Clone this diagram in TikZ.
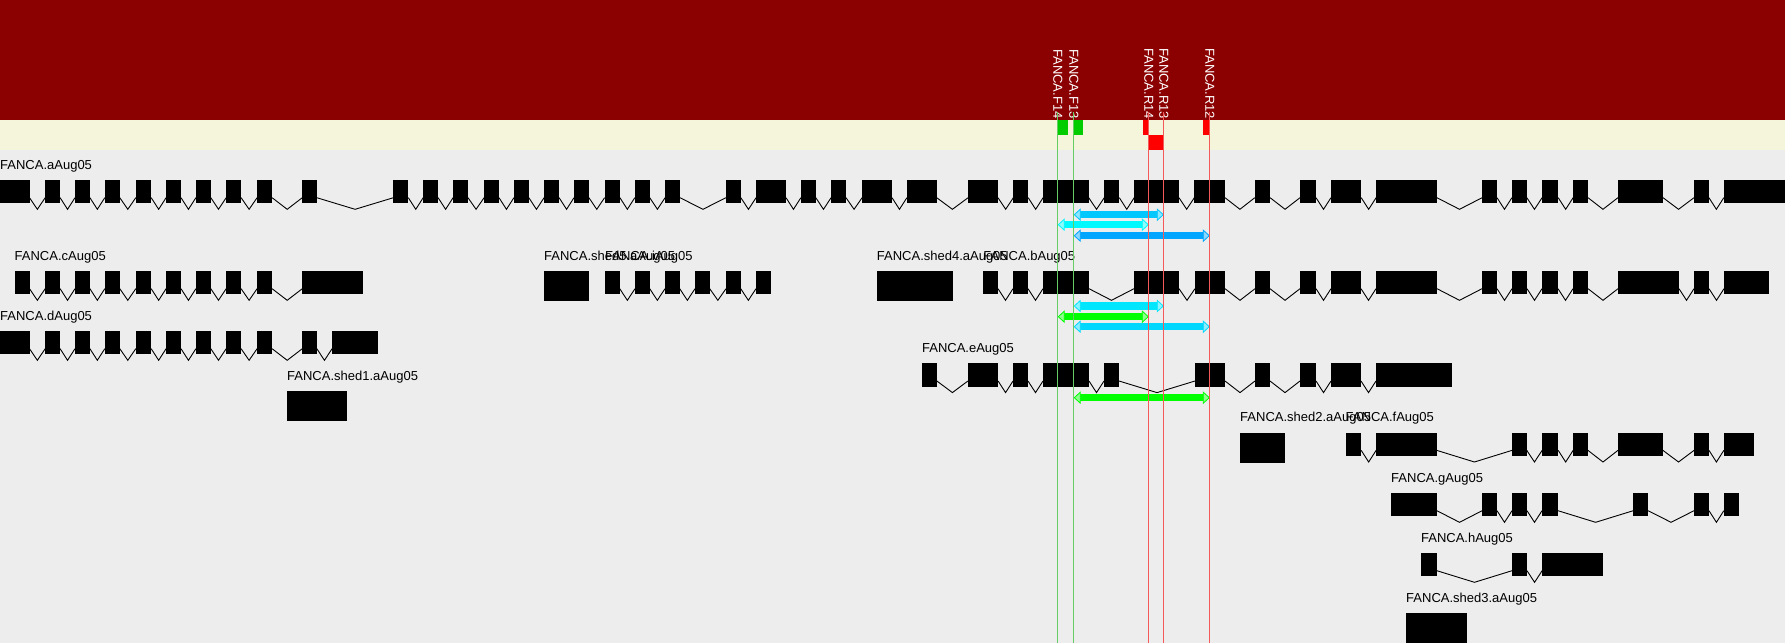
\documentclass[tikz,border=0pt]{standalone}
\usepackage{fontspec}
\setmainfont{Liberation Sans}
\usepackage{xcolor}
\usepackage{tikz}

\definecolor{bandred}{RGB}{139,0,0}
\definecolor{bandcream}{RGB}{245,245,220}
\definecolor{canvas}{RGB}{237,237,237}
\definecolor{fgreen}{RGB}{0,204,0}
\definecolor{rred}{RGB}{255,0,0}
\definecolor{flinecol}{RGB}{100,205,100}
\definecolor{rlinecol}{RGB}{245,90,90}
\definecolor{ampA}{RGB}{0,200,255}
\definecolor{ampB}{RGB}{0,248,255}
\definecolor{ampC}{RGB}{0,165,255}
\definecolor{ampD}{RGB}{0,230,255}
\definecolor{ampE}{RGB}{0,255,0}
\definecolor{ampF}{RGB}{0,215,255}

% exons (start/end) on one row, with bent introns between them
\newcommand{\genemodel}[2]{%
  \foreach \s/\e [count=\i, remember=\e as \pe (initially 0)] in {#2} {
    \fill[exon] (\s,#1) rectangle (\e,#1+23.3);
    \ifnum\i>1
      \draw[intron] (\pe,#1+17.7) -- ({(\pe+\s)/2},#1+29.3) -- (\s,#1+17.7);
    \fi
  }}

% amplicon bar with open ends
\newcommand{\ampbar}[4]{%
  \fill[#1] (#2+5,#4-3.6) rectangle (#3-5,#4+3.6);
  \filldraw[fill=#1!45!white, draw=#1, line width=0.8pt] (#2+6,#4-5.5) -- (#2,#4) -- (#2+6,#4+5.5) -- cycle;
  \filldraw[fill=#1!45!white, draw=#1, line width=0.8pt] (#3-6,#4-5.5) -- (#3,#4) -- (#3-6,#4+5.5) -- cycle;}

\begin{document}
\begin{tikzpicture}[x=1pt, y=-1pt,
    exon/.style={fill=black},
    shedbox/.style={fill=black},
    intron/.style={draw=black, line width=0.9pt},
    genelabel/.style={anchor=base west, inner sep=0pt, font=\fontsize{13}{15}\selectfont},
    primerlabel/.style={anchor=west, inner sep=0pt, rotate=-90, text=white, font=\fontsize{13}{15}\selectfont},
    fline/.style={draw=flinecol, line width=1pt},
    rline/.style={draw=rlinecol, line width=1pt}]

    \useasboundingbox (0,0) rectangle (1785,643);

    % Bands
    \fill[canvas] (0,0) rectangle (1785,643);
    \fill[bandred] (0,0) rectangle (1785,120);
    \fill[bandcream] (0,120) rectangle (1785,150);

    % Primers
    \node [primerlabel] (f14) at (1057.8,49) {FANCA.F14};
    \node [primerlabel] (f13) at (1073.8,49) {FANCA.F13};
    \node [primerlabel] (r14) at (1148.8,48) {FANCA.R14};
    \node [primerlabel] (r13) at (1163.8,48) {FANCA.R13};
    \node [primerlabel] (r12) at (1209.8,48) {FANCA.R12};
    \fill[fgreen] (1057.3,120) rectangle (1067.7,135);
    \fill[fgreen] (1073.3,120) rectangle (1082.7,135);
    \fill[rred] (1143,120) rectangle (1148.3,135);
    \fill[rred] (1149,135) rectangle (1163.7,150);
    \fill[rred] (1203,120) rectangle (1209.3,135);

    % Gene labels
    \node [genelabel] (fancaA) at (0,169.5) {FANCA.aAug05};
    \node [genelabel] (fancaC) at (14.5,260.5) {FANCA.cAug05};
    \node [genelabel] (fancaD) at (0,320.5) {FANCA.dAug05};
    \node [genelabel] (shed1) at (287,380.5) {FANCA.shed1.aAug05};
    \node [genelabel] (shed5) at (544,260.5) {FANCA.shed5.aAug05};
    \node [genelabel] (fancaI) at (605,260.5) {FANCA.iAug05};
    \node [genelabel] (shed4) at (876.7,260.5) {FANCA.shed4.aAug05};
    \node [genelabel] (fancaB) at (983.2,260.5) {FANCA.bAug05};
    \node [genelabel] (fancaE) at (921.9,352.5) {FANCA.eAug05};
    \node [genelabel] (shed2) at (1240,421.5) {FANCA.shed2.aAug05};
    \node [genelabel] (fancaF) at (1345.5,421.5) {FANCA.fAug05};
    \node [genelabel] (fancaG) at (1391,482) {FANCA.gAug05};
    \node [genelabel] (fancaH) at (1420.9,542) {FANCA.hAug05};
    \node [genelabel] (shed3) at (1406,602) {FANCA.shed3.aAug05};

    % Gene models
    \genemodel{180}{0/29.5, 45.2/60.1, 75/89.9, 104.8/119.8, 135.8/151.2, 166.1/181, 195.9/210.8, 226.2/241.1, 257.1/272.1, 302.3/316.8, 393.4/408.3, 423.2/438.1, 453.1/468, 484.1/499, 513.9/528.8, 544.1/559.1, 574/588.9, 604.6/619.9, 634.8/649.7, 665.1/680, 725.9/740.8, 756.1/786, 800.9/815.8, 831.1/846, 862.1/892, 906.9/936.7, 968.1/998, 1013.3/1028.2, 1043.1/1088.7, 1104.3/1119.3, 1134.2/1179, 1194.3/1225, 1254.8/1270.1, 1300/1316, 1331/1361.2, 1376.1/1436.9, 1482.1/1497, 1511.9/1526.8, 1542.1/1558.2, 1573.1/1588, 1617.9/1663, 1694/1708.9, 1723.8/1785}
    \genemodel{271}{14.5/29.5, 45.2/60.1, 75/89.9, 104.8/119.8, 135.8/151.2, 166.1/181, 195.9/210.8, 226.2/241.1, 257.1/272.1, 302.3/362.8}
    \genemodel{331}{0/29.5, 45.2/60.1, 75/89.9, 104.8/119.8, 135.8/151.2, 166.1/181, 195.9/210.8, 226.2/241.1, 257.1/272.1, 302.3/316.8, 332.1/377.7}
    \genemodel{271}{605/619.7, 635/649.7, 665/679.7, 695/709.7, 726/740.7, 756/770.7}
    \genemodel{271}{983.2/998, 1013/1028, 1043/1089, 1134/1179, 1195/1225, 1255/1270, 1300/1316, 1331/1361, 1376/1437, 1482/1497, 1512/1527, 1542/1558, 1573/1588, 1618/1679, 1694/1709, 1724/1768.6}
    \genemodel{363.3}{921.9/936.9, 967.9/998.1, 1013/1028, 1043/1089, 1104/1119, 1195/1225, 1255/1270, 1300/1316, 1331/1361, 1376/1452}
    \genemodel{432.7}{1345.5/1361.2, 1376.1/1436.9, 1511.9/1526.8, 1542.1/1558.2, 1573.1/1588, 1617.9/1663, 1694/1709, 1723.8/1754}
    \genemodel{493}{1391/1436.9, 1482.1/1497, 1512/1527, 1542/1558, 1633.2/1648.1, 1694/1709, 1723.8/1739.1}
    \genemodel{553}{1420.9/1436.9, 1512/1527, 1542.1/1603}

    % Unspliced boxes
    \fill[shedbox] (287,391) rectangle (346.7,421);
    \fill[shedbox] (544,271) rectangle (589,301);
    \fill[shedbox] (876.7,271) rectangle (952.7,301);
    \fill[shedbox] (1240,432.7) rectangle (1285,462.7);
    \fill[shedbox] (1406,613) rectangle (1467,643);

    % Amplicons
    \ampbar{ampA}{1074.3}{1163.3}{214.7}
    \ampbar{ampB}{1058.3}{1148.3}{224.7}
    \ampbar{ampC}{1074.3}{1209.3}{235.7}
    \ampbar{ampD}{1074.3}{1163.3}{306}
    \ampbar{ampE}{1058.3}{1148.3}{316.7}
    \ampbar{ampF}{1074.3}{1209.3}{326.7}
    \ampbar{ampE}{1074.3}{1209.3}{397.7}

    % Primer lines
    \draw [fline] (1057.3,112) -- (1057.3,643);
    \draw [fline] (1073.3,112) -- (1073.3,643);
    \draw [rline] (1148.3,112) -- (1148.3,643);
    \draw [rline] (1163.3,112) -- (1163.3,643);
    \draw [rline] (1209.3,112) -- (1209.3,643);
\end{tikzpicture}
\end{document}
